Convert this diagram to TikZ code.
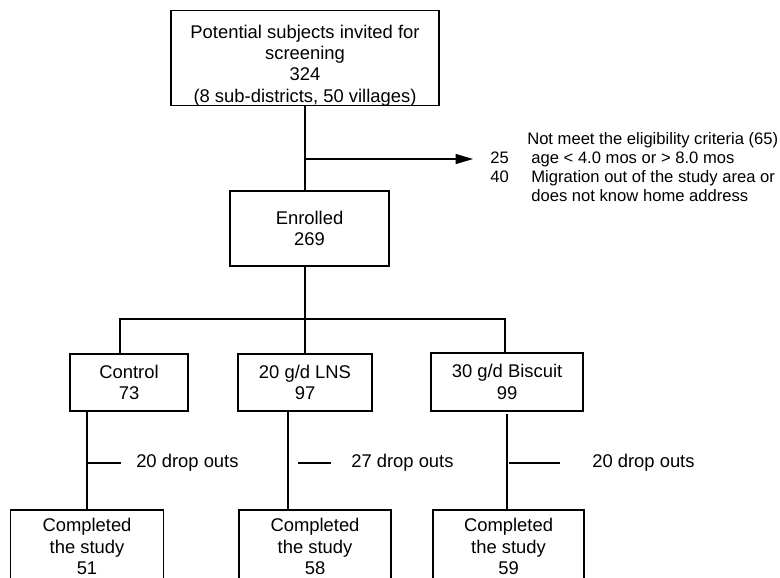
\documentclass[tikz,border=0pt]{standalone}
\usepackage{fontspec}
\setmainfont{Liberation Sans}
\usetikzlibrary{arrows.meta}
\tikzset{
    flowbox/.style={rectangle, draw=black, line width=0.8pt, inner sep=0pt, outer sep=0pt, align=center, font=\fontsize{13.8}{16}\selectfont},
    droptext/.style={anchor=west, inner sep=0pt, font=\fontsize{13.8}{16}\selectfont},
    link/.style={line width=0.8pt, color=black},
    exclarrow/.style={-{Triangle[length=13pt, width=7.5pt]}, line width=0.8pt, color=black},
}

\begin{document}
\begin{tikzpicture}[x=0.75pt, y=-0.75pt]
    \useasboundingbox (0,0) rectangle (780,577);
    % Screening
    \node[flowbox, minimum width=201pt, minimum height=64.5pt] (screen) at (305,58) {\rule{0pt}{21pt}Potential subjects invited for\\screening\\324\\(8 sub-districts, 50 villages)};

    % Enrolled
    \node[flowbox, minimum width=119.25pt, minimum height=56.25pt] (enrol) at (309.5,228.5) {Enrolled\\269};
    \draw[link] (screen.south) -- (screen.south |- enrol.north);

    % Exclusion
    \coordinate (tip) at (473,159);
    \draw[exclarrow] (screen.south |- tip) -- (tip);
    \node[anchor=north west, inner sep=0pt, font=\fontsize{12.45}{14.25}\selectfont] (excl) at (490,131) {%
        \begin{tabular}{@{}l@{\hspace{17pt}}l@{}}
            \multicolumn{2}{@{}l@{}}{\hspace{27.75pt}Not meet the eligibility criteria (65)}\\
            25 & age < 4.0 mos or > 8.0 mos\\
            40 & Migration out of the study area or\\
               & does not know home address
        \end{tabular}};

    % Arms
    \node[flowbox, minimum width=88.5pt, minimum height=42.75pt] (ctrl) at (129,382.5) {Control\\73};
    \node[flowbox, minimum width=100.5pt, minimum height=42.75pt] (lns) at (305,382.5) {20 g/d LNS\\97};
    \node[flowbox, minimum width=114pt, minimum height=43.5pt] (bisc) at (507,382) {30 g/d Biscuit\\99};
    \coordinate (bus) at (305,319);
    \draw[link] (lns.north |- enrol.south) -- (lns.north);
    \draw[link] ([xshift=-6.75pt]ctrl.north) |- (bus) -| ([xshift=-1.5pt]bisc.north);

    % Completed
    \node[flowbox, minimum width=114.75pt, minimum height=54.75pt] (done1) at (87,546.5) {Completed\\the study\\51};
    \node[flowbox, minimum width=114pt, minimum height=54.75pt] (done2) at (315,546.5) {Completed\\the study\\58};
    \node[flowbox, minimum width=113.25pt, minimum height=54.75pt] (done3) at (508.5,546.5) {Completed\\the study\\59};
    \draw[link] (done1.north |- ctrl.south) -- (done1.north);
    \draw[link] ([xshift=-12.75pt]lns.south) -- ([xshift=-12.75pt]lns.south |- done2.north);
    \draw[link] ([yshift=-2pt]bisc.south) -- (bisc.south |- done3.north);

    % Drop outs
    \node[droptext] (d1) at (136,463) {20 drop outs};
    \node[droptext] (d2) at (351,463) {27 drop outs};
    \node[droptext] (d3) at (592,463) {20 drop outs};
    \draw[link] ([xshift=-11.25pt]d1.west) -- ++(-34,0);
    \draw[link] ([xshift=-15pt]d2.west) -- ++(-33,0);
    \draw[link] ([xshift=-24pt]d3.west) -- ++(-51,0);
\end{tikzpicture}
\end{document}
